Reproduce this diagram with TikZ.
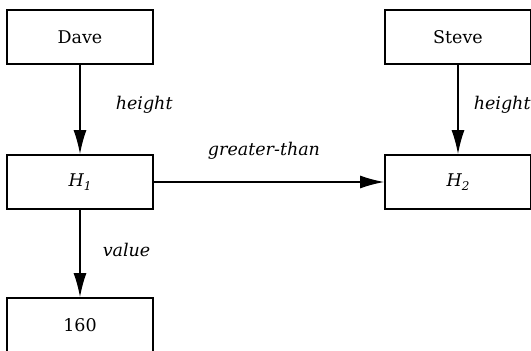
\documentclass[tikz,border=0pt]{standalone}
\usepackage{fontspec}
\setmainfont{DejaVu Serif}
\usetikzlibrary{arrows.meta}
\newcommand{\hsub}[1]{{\itshape H}\raisebox{-4.5pt}{\fontsize{12}{12}\selectfont\itshape #1}}
\begin{document}
\begin{tikzpicture}[x=1pt,y=-1pt,
  box/.style={draw=black, line width=1.6pt, minimum width=146pt, minimum height=54pt, inner sep=0pt, font=\fontsize{17.5}{19}\selectfont},
  lbl/.style={inner sep=0pt, anchor=west, font=\fontsize{17.5}{19}\selectfont\itshape},
  conn/.style={line width=1.6pt, -{Latex[length=24pt,width=13pt]}}]
\useasboundingbox (0,0) rectangle (531,351);
\node[box] (dave)  at (80,37)  {Dave};
\node[box] (steve) at (458,37) {Steve};
\node[box] (h1)    at (80,182) {\hsub{1}};
\node[box] (h2)    at (458,182) {\hsub{2}};
\node[box] (v160)  at (80,325) {160};
\draw[conn] (dave) -- node[lbl, xshift=35pt, yshift=4.5pt] {height} (h1);
\draw[conn] (steve) -- node[lbl, xshift=15pt, yshift=4.5pt] {height} (h2);
\draw[conn] (h1) -- node[lbl, anchor=center, xshift=-5pt, yshift=31pt] {greater-than} (h2);
\draw[conn] (h1) -- node[lbl, xshift=22pt, yshift=3.5pt] {value} (v160);
\end{tikzpicture}
\end{document}
